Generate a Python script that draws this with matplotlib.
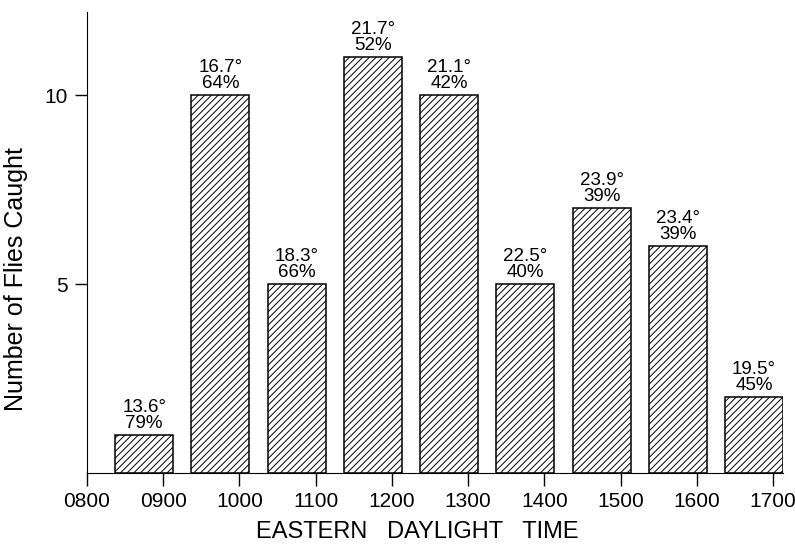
import numpy as np
import matplotlib
matplotlib.use("Agg")
import matplotlib.pyplot as plt

# data
hours = np.arange(9)                     # 0800 .. 1600 hour slots
flies = [1, 10, 5, 11, 10, 5, 7, 6, 2]
temps = ['13.6°', '16.7°', '18.3°', '21.7°', '21.1°', '22.5°', '23.9°', '23.4°', '19.5°']
humid = ['79%', '64%', '66%', '52%', '42%', '40%', '39%', '39%', '45%']
tick_labels = ['0800', '0900', '1000', '1100', '1200', '1300', '1400', '1500', '1600', '1700']

plt.rcParams['font.family'] = ['Liberation Sans', 'DejaVu Sans']
plt.rcParams['hatch.linewidth'] = 0.7

fig = plt.figure(figsize=(7.95, 5.44), dpi=100)
ax = fig.add_axes([0.1094, 0.1305, 0.8756, 0.8475])

bars = ax.bar(hours + 0.75, flies, width=0.76, color='white', edgecolor='black',
              linewidth=1.1, hatch='/////')

for b, t, h in zip(bars, temps, humid):
    ax.text(b.get_x() + b.get_width() / 2, b.get_height() + 0.08, t + '\n' + h,
            ha='center', va='bottom', fontsize=13.5, linespacing=0.95)

ax.set_xlim(0, 9.13)
ax.set_ylim(0, 12.2)
ax.set_xticks(np.arange(10))
ax.set_xticklabels(tick_labels)
ax.set_yticks([5, 10])
ax.tick_params(axis='both', direction='out', length=9, width=1, labelsize=15, pad=5)
ax.spines['top'].set_color('None')
ax.spines['right'].set_color('None')

ax.set_ylabel('Number of Flies Caught', fontsize=18)
ax.yaxis.set_label_coords(-0.085, 0.42)
ax.set_xlabel('EASTERN   DAYLIGHT   TIME', fontsize=17, va='center')
ax.xaxis.set_label_coords(0.475, -0.128)

plt.savefig('out.png', dpi=100)
